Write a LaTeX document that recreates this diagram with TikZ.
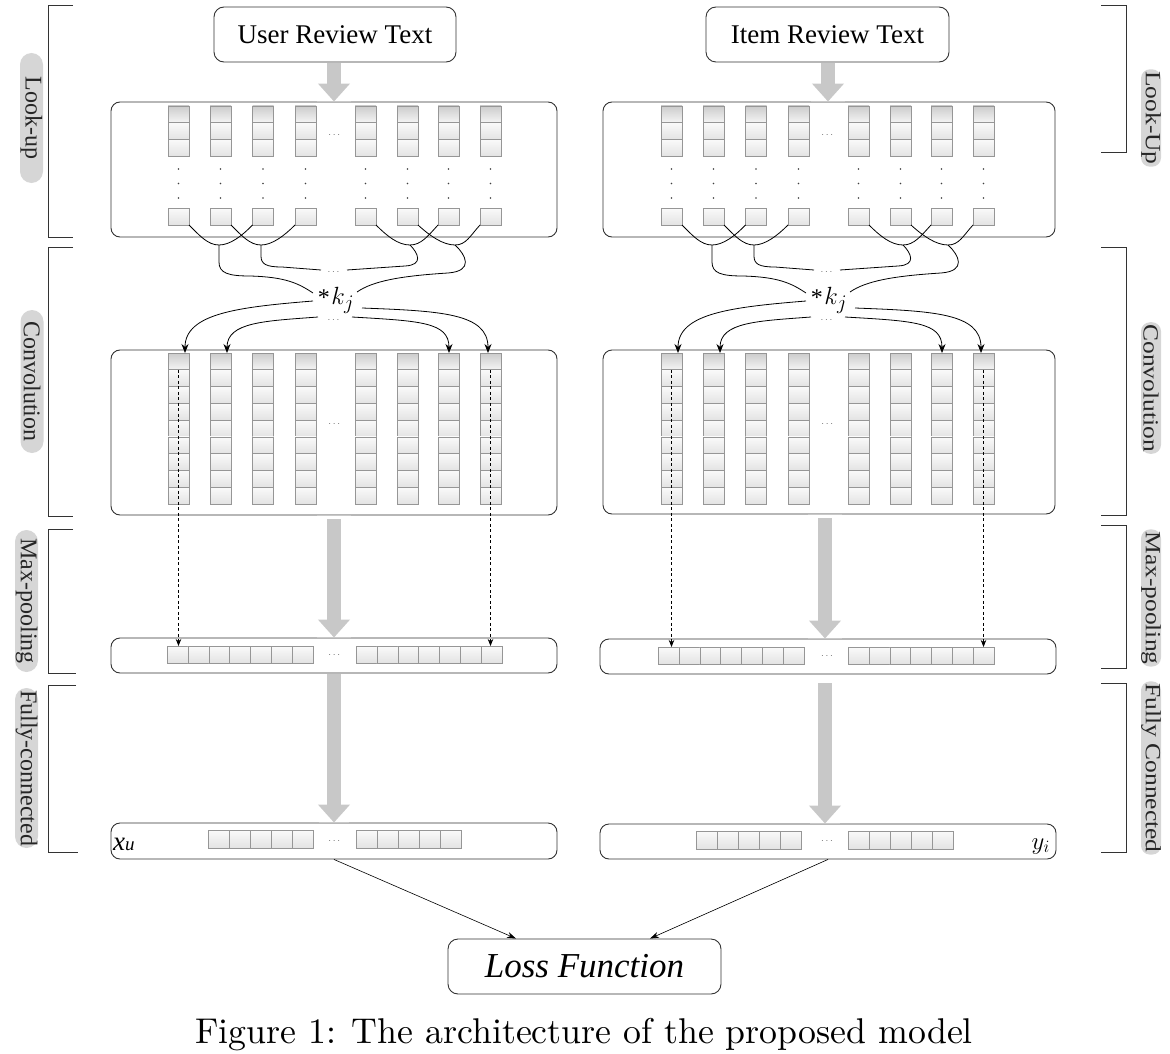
\documentclass[tikz,border=0pt]{standalone}
\usepackage{fontspec}
\newfontfamily\tnr{Liberation Serif}
\usetikzlibrary{arrows.meta,calc}
\definecolor{cellline}{RGB}{150,150,150}
\definecolor{bigarrowc}{RGB}{200,200,200}
\definecolor{pillc}{RGB}{214,214,214}
\tikzset{
 layerbox/.style={draw=black!80, line width=0.9pt, rounded corners=9pt, inner sep=0pt},
 cell/.style={draw=cellline, line width=0.6pt, top color=black!2, bottom color=black!11, minimum width=21pt, minimum height=16.7pt, inner sep=0pt, outer sep=0pt},
 headcell/.style={cell, top color=black!20, bottom color=black!4},
 conn/.style={draw=black, line width=0.8pt},
 convarrow/.style={conn, -{Stealth[length=9pt,width=7pt]}},
 dasharrow/.style={draw=black, line width=0.7pt, dash pattern=on 3pt off 2.5pt, -{Stealth[length=7pt,width=5.5pt]}},
 thinarrow/.style={draw=black, line width=0.6pt, -{Stealth[length=9pt,width=6pt]}},
 bigarrow/.style={draw=bigarrowc, line width=14pt, -{Triangle[width=31pt,length=18pt]}},
 bordermark/.style={draw=bigarrowc, line width=1.6pt},
 bracket/.style={draw=black!80, line width=0.9pt},
 leftpill/.style={rotate=-90, fill=pillc, rounded corners=11.5pt, minimum height=23pt, inner sep=0pt, font=\tnr\fontsize{24}{24}\selectfont, text=black!85},
 rightpill/.style={rotate=-90, fill=pillc, rounded corners=9pt, minimum height=20pt, inner xsep=2pt, inner ysep=0pt, font=\tnr\fontsize{25.5}{26}\selectfont, text=black!85},
 dotsnode/.style={inner sep=0pt, text=black!60, font=\fontsize{10}{10}\selectfont},
 titlebox/.style={draw=black!80, line width=0.9pt, rounded corners=10pt, inner sep=0pt, font=\tnr\fontsize{27}{30}\selectfont},
}
\newcommand\sideparts[2]{%
\begin{scope}[xshift=#2pt]
\foreach \ii/\xx in {1/178.5,2/220.5,3/263,4/305.5,5/365.5,6/407.5,7/448.5,8/490.5}{%
  \node[headcell] (#1t\ii) at (\xx,114.35) {};
  \node[cell] at (\xx,131.05) {};
  \node[cell] at (\xx,147.75) {};
  \foreach \yy in {169,183.5,198} \fill[black!75] (\xx,\yy) circle (0.9pt);
  \node[cell, minimum height=17pt] (#1b\ii) at (\xx,216.5) {};
  \node[headcell, minimum height=16.78pt] (#1c\ii) at (\xx,361.4) {};
  \foreach \kk in {1,...,8} \node[cell, minimum height=16.78pt] at (\xx,361.4+16.78*\kk) {};
}
\node[dotsnode] (#1lookdots) at (334.3,135) {$\cdots$};
\node[dotsnode] (#1convdots) at (334.3,424) {$\cdots$};
\node[anchor=base, inner sep=0pt] (#1k) at (336,304) {\raisebox{-1pt}{\tnr\fontsize{24}{24}\selectfont *}\,{\fontsize{29}{29}\selectfont$k_j$}};
\node[dotsnode] (#1da) at (333.5,272) {$\cdots$};
\node[dotsnode] (#1db) at (333.5,320.5) {$\cdots$};
\coordinate (#1J1) at (219,245);
\coordinate (#1J2) at (261,245);
\coordinate (#1J3) at (410,245);
\coordinate (#1J4) at (455,245);
\coordinate (#1kA) at (313,293);
\coordinate (#1kB) at (321,270);
\coordinate (#1kC) at (347,270);
\coordinate (#1kD) at (357,292);
\coordinate (#1kE) at (313,301);
\coordinate (#1kF) at (318,317);
\coordinate (#1kG) at (352,317);
\coordinate (#1kH) at (362,308);
\draw[conn] (#1b1.south east) .. controls (200,236) and (208,245) .. (#1J1);
\draw[conn] (#1b3.south west) .. controls (242,236) and (230,245) .. (#1J1);
\draw[conn] (#1b2.south east) .. controls (242,236) and (250,245) .. (#1J2);
\draw[conn] (#1b4.south west) .. controls (284,236) and (272,245) .. (#1J2);
\draw[conn] (#1b5.south east) .. controls (387,236) and (398,245) .. (#1J3);
\draw[conn] (#1b7.south west) .. controls (428,236) and (421,245) .. (#1J3);
\draw[conn] (#1b6.south east) .. controls (430,236) and (443,245) .. (#1J4);
\draw[conn] (#1b8.south west) .. controls (470,236) and (466,245) .. (#1J4);
\draw[conn] (#1J1) -- (219,262) .. controls (219,273) and (228,276) .. (250,276) .. controls (285,277) and (298,283) .. (#1kA);
\draw[conn] (#1J2) -- (261,256) .. controls (261,264) and (266,267) .. (282,267) -- (#1kB);
\draw[conn] (#1J3) .. controls (418,253) and (424,265) .. (405,266) -- (#1kC);
\draw[conn] (#1J4) .. controls (466,255) and (474,271) .. (448,273) .. controls (400,276) and (373,281) .. (#1kD);
\draw[convarrow] (#1kE) .. controls (240,307) and (185,313) .. ([xshift=6.5pt]#1c1.north);
\draw[convarrow] (#1kF) .. controls (265,321) and (227,322) .. ([xshift=6.5pt]#1c2.north);
\draw[convarrow] (#1kG) .. controls (420,321) and (449,322) .. ([xshift=0.5pt]#1c7.north);
\draw[convarrow] (#1kH) .. controls (440,311) and (488,313) .. ([xshift=-2.5pt]#1c8.north);
\end{scope}}
\begin{document}
\begin{tikzpicture}[x=1pt,y=-1pt]
\useasboundingbox (0,0) rectangle (1170,1054);
% brackets left
\draw[bracket] (73,5) -- (48,5) -- (48,237) -- (73,237);
\draw[bracket] (73,247) -- (48,247) -- (48,516) -- (73,516);
\draw[bracket] (73,529) -- (48,529) -- (48,673) -- (76,673);
\draw[bracket] (76,685) -- (48,685) -- (48,852) -- (78,852);
% brackets right
\draw[bracket] (1101,5) -- (1126,5) -- (1126,152) -- (1101,152);
\draw[bracket] (1101,247) -- (1126,247) -- (1126,515) -- (1101,515);
\draw[bracket] (1101,525) -- (1126,525) -- (1126,668) -- (1101,668);
\draw[bracket] (1101,683) -- (1126,683) -- (1126,852) -- (1101,852);
% side labels
\node[leftpill, minimum width=130pt] (labLlook) at (31.5,118) {Look-up};
\node[leftpill, minimum width=143pt] (labLconv) at (32,381.5) {Convolution};
\node[leftpill, minimum width=142pt] (labLmp) at (26.5,601) {Max-pooling};
\node[leftpill, minimum width=160pt] (labLfc) at (26.5,768) {Fully-connected};
\node[rightpill] (labRlook) at (1151,118) {\scalebox{1}[0.85]{Look-Up}};
\node[rightpill] (labRconv) at (1151,388) {\scalebox{1}[0.85]{Convolution}};
\node[rightpill] (labRmp) at (1151,598) {\scalebox{1}[0.85]{Max-pooling}};
\node[rightpill] (labRfc) at (1151,768) {\scalebox{1}[0.85]{Fully Connected}};
% top boxes
\node[titlebox, minimum width=242pt, minimum height=55pt] (Ltext) at (335,34.5) {User Review Text};
\node[titlebox, minimum width=243pt, minimum height=55pt] (Rtext) at (827.5,34.5) {Item Review Text};
% layer boxes
\node[layerbox, minimum width=446pt, minimum height=135pt] (Llook) at (334,169.5) {};
\node[layerbox, minimum width=452pt, minimum height=135pt] (Rlook) at (829,169.5) {};
\node[layerbox, minimum width=446pt, minimum height=165pt] (Lconv) at (334,432.5) {};
\node[layerbox, minimum width=452pt, minimum height=164pt] (Rconv) at (829,432) {};
\node[layerbox, minimum width=446pt, minimum height=35pt] (Lmp) at (334,655.5) {};
\node[layerbox, minimum width=456pt, minimum height=35pt] (Rmp) at (828,656.5) {};
\node[layerbox, minimum width=446pt, minimum height=36pt] (Lfc) at (334,841) {};
\node[layerbox, minimum width=456pt, minimum height=35pt] (Rfc) at (828,841.5) {};
% inner parts
\sideparts{L}{0}
\sideparts{R}{493}
% max-pooling cells
\foreach \kk in {1,...,7} \node[cell, minimum width=20.9pt, minimum height=17pt] (Lm\kk) at (177.45+20.9*\kk-20.9,654.5) {};
\foreach \kk in {8,...,14} \node[cell, minimum width=20.9pt, minimum height=17pt] (Lm\kk) at (366.45+20.9*\kk-167.2,654.5) {};
\foreach \kk in {1,...,7} \node[cell, minimum width=20.9pt, minimum height=17pt] (Rm\kk) at (668.45+20.9*\kk-20.9,655.5) {};
\foreach \kk in {8,...,14} \node[cell, minimum width=20.9pt, minimum height=17pt] (Rm\kk) at (858.45+20.9*\kk-167.2,655.5) {};
\node[dotsnode] (Lmpdots) at (334.3,655) {$\cdots$};
\node[dotsnode] (Rmpdots) at (827,656) {$\cdots$};
% fully connected cells
\foreach \kk in {1,...,5} \node[cell, minimum width=21.1pt, minimum height=18pt] (Lf\kk) at (218.55+21.1*\kk-21.1,839) {};
\foreach \kk in {6,...,10} \node[cell, minimum width=21.1pt, minimum height=18pt] (Lf\kk) at (366.55+21.1*\kk-126.6,839) {};
\foreach \kk in {1,...,5} \node[cell, minimum width=21.1pt, minimum height=18pt] (Rf\kk) at (706.55+21.1*\kk-21.1,840) {};
\foreach \kk in {6,...,10} \node[cell, minimum width=21.1pt, minimum height=18pt] (Rf\kk) at (858.55+21.1*\kk-126.6,840) {};
\node[dotsnode] (Lfcdots) at (334.3,841) {$\cdots$};
\node[dotsnode] (Rfcdots) at (827,841) {$\cdots$};
\node[anchor=base west, inner sep=0pt] (xu) at (113,850) {\tnr\itshape\fontsize{27}{27}\selectfont x\fontsize{19}{19}\selectfont u};
\node[anchor=base east, inner sep=0pt] (yi) at (1050,849) {\fontsize{27}{27}\selectfont$y_i$};
% dashed max-pooling arrows
\draw[dasharrow] (Lc1.south) -- (Lc1.south |- Lm1.north);
\draw[dasharrow] (Lc8.south) -- (Lc8.south |- Lm14.north);
\draw[dasharrow] (Rc1.south) -- (Rc1.south |- Rm1.north);
\draw[dasharrow] (Rc8.south) -- (Rc8.south |- Rm14.north);
% big grey arrows
\coordinate (Lax) at (334,0);
\coordinate (Rax) at (825,0);
\coordinate (Rtx) at (828,0);
\draw[bordermark] ($(Llook.north -| Lax)+(-17,0)$) -- ($(Llook.north -| Lax)+(17,0)$);
\draw[bordermark] ($(Rlook.north -| Rtx)+(-17,0)$) -- ($(Rlook.north -| Rtx)+(17,0)$);
\draw[bordermark] ($(Lconv.south -| Lax)+(-17,0)$) -- ($(Lconv.south -| Lax)+(17,0)$);
\draw[bordermark] ($(Rconv.south -| Rax)+(-17,0)$) -- ($(Rconv.south -| Rax)+(17,0)$);
\draw[bordermark] ($(Lmp.north -| Lax)+(-17,0)$) -- ($(Lmp.north -| Lax)+(17,0)$);
\draw[bordermark] ($(Rmp.north -| Rax)+(-17,0)$) -- ($(Rmp.north -| Rax)+(17,0)$);
\draw[bordermark] ($(Lfc.north -| Lax)+(-15,0)$) -- ($(Lfc.north -| Lax)+(15,0)$);
\draw[bordermark] ($(Rfc.north -| Rax)+(-15,0)$) -- ($(Rfc.north -| Rax)+(15,0)$);
\draw[bigarrow] ($(Ltext.south -| Lax)+(0,1)$) -- (Llook.north -| Lax);
\draw[bigarrow] ($(Rtext.south -| Rtx)+(0,1)$) -- (Rlook.north -| Rtx);
\draw[bigarrow] ($(Lconv.south -| Lax)+(0,4)$) -- (Lmp.north -| Lax);
\draw[bigarrow] ($(Rconv.south -| Rax)+(0,4)$) -- (Rmp.north -| Rax);
\draw[bigarrow] ($(Lmp.south -| Lax)+(0,1)$) -- (Lfc.north -| Lax);
\draw[bigarrow] ($(Rmp.south -| Rax)+(0,9)$) -- (Rfc.north -| Rax);
% loss
\node[titlebox, minimum width=273pt, minimum height=55pt, font=\tnr\itshape\fontsize{35}{38}\selectfont] (loss) at (584.5,966.5) {Loss Function};
\draw[thinarrow] (Lfc.south) -- ([xshift=-68.5pt]loss.north);
\draw[thinarrow] (Rfc.south) -- ([xshift=65.5pt]loss.north);
% caption
\node[anchor=base, inner sep=0pt] (cap) at (584,1043) {\scalebox{3.58}{\fontsize{10}{12}\selectfont Figure 1: The architecture of the proposed model}};
\end{tikzpicture}
\end{document}
